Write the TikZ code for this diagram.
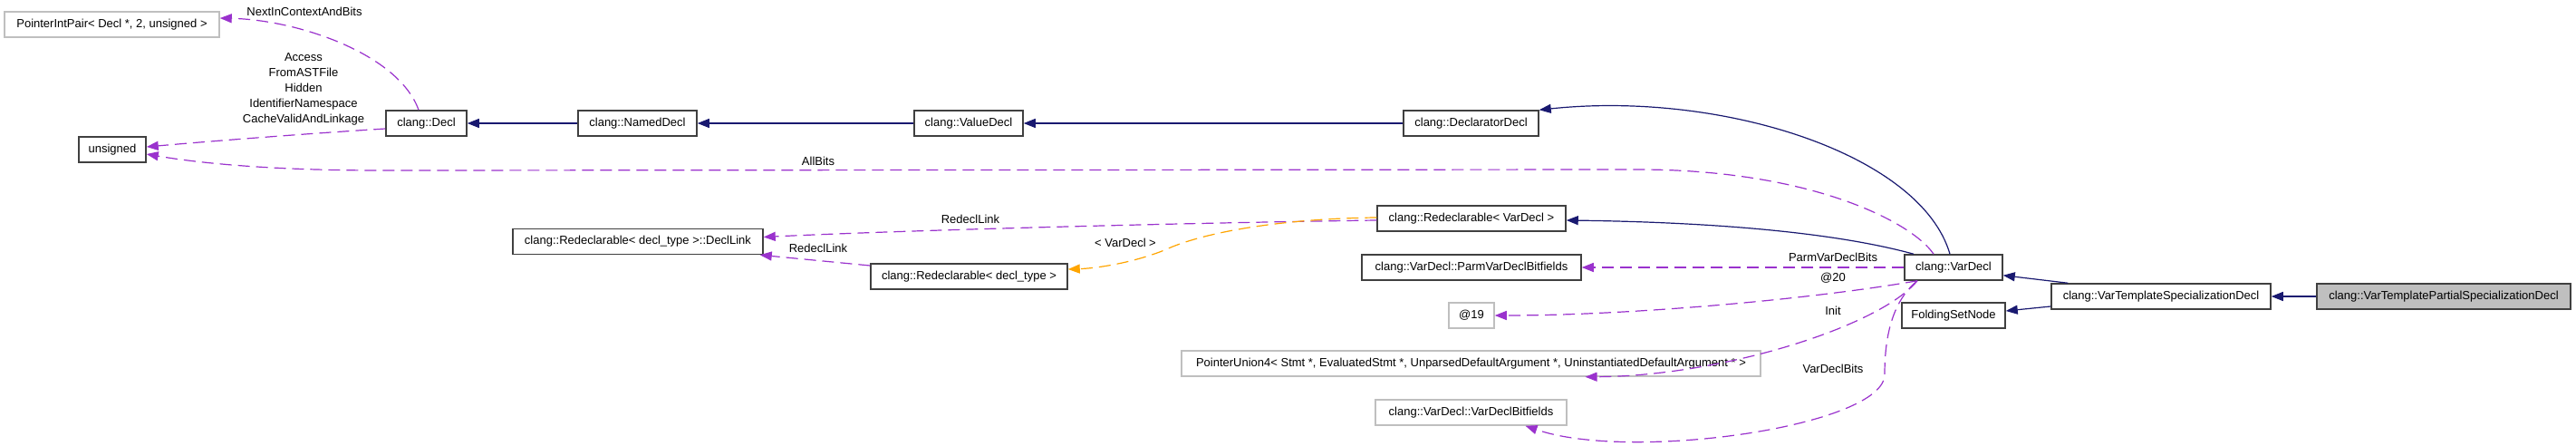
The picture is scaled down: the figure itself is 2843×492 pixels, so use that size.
\documentclass[tikz,border=0pt]{standalone}
\usepackage{fontspec}
\setmainfont{Liberation Sans}
\usetikzlibrary{arrows.meta,calc}
\definecolor{inhcol}{HTML}{191970}
\definecolor{usecol}{HTML}{9A32CD}
\definecolor{tplcol}{HTML}{FFA500}
\definecolor{boxcol}{HTML}{404040}
\definecolor{greycol}{HTML}{BFBFBF}
\definecolor{fillcol}{HTML}{BFBFBF}
\begin{document}
\begin{tikzpicture}[x=1pt,y=-1pt,
  every node/.style={font=\fontsize{13}{17}\selectfont},
  cls/.style={draw=boxcol, line width=1.5pt, minimum height=28pt, inner sep=0pt, anchor=center},
  ext/.style={draw=greycol, line width=1.5pt, minimum height=28pt, inner sep=0pt, anchor=center},
  lbl/.style={inner sep=0pt, anchor=center},
  inh/.style={draw=inhcol, line width=1.2pt, -{Triangle[length=13pt,width=10pt]}},
  use/.style={draw=usecol, line width=1.2pt, dash pattern=on 13pt off 7pt, -{Triangle[length=13pt,width=10pt]}},
  tpl/.style={draw=tplcol, line width=1.2pt, dash pattern=on 13pt off 7pt, -{Triangle[length=13pt,width=10pt]}}
]
\useasboundingbox (0,0) rectangle (2843,492);
\fill[white] (0,0) rectangle (2843,492);

% nodes
\node[ext, minimum width=237pt] (pip) at (123.5,27) {PointerIntPair< Decl *, 2, unsigned >};
\node[cls, minimum width=74pt] (uns) at (124,165) {unsigned};
\node[cls, minimum width=89pt] (decl) at (470.5,136) {clang::Decl};
\node[cls, minimum width=131pt] (named) at (703.5,136) {clang::NamedDecl};
\node[cls, minimum width=120pt] (value) at (1069,136) {clang::ValueDecl};
\node[cls, minimum width=149pt] (declarator) at (1623.5,136) {clang::DeclaratorDecl};
\node[cls, minimum width=208pt] (rdVar) at (1624,241) {clang::Redeclarable< VarDecl >};
\node[cls, minimum width=276pt] (declLink) at (704,266.5) {clang::Redeclarable< decl\_type >::DeclLink};
\node[cls, minimum width=217pt] (rdDT) at (1069.5,305) {clang::Redeclarable< decl\_type >};
\node[cls, minimum width=242pt] (parm) at (1624,295) {clang::VarDecl::ParmVarDeclBitfields};
\node[ext, minimum width=50pt] (at19) at (1624,348) {@19};
\node[ext, minimum width=639pt] (pu4) at (1623.5,401) {PointerUnion4< Stmt *, EvaluatedStmt *, UnparsedDefaultArgument *, UninstantiatedDefaultArgument * >};
\node[ext, minimum width=211pt] (vdbf) at (1623.5,455) {clang::VarDecl::VarDeclBitfields};
\node[cls, minimum width=108pt] (vardecl) at (2156,295) {clang::VarDecl};
\node[cls, minimum width=114pt] (fsn) at (2156,348) {FoldingSetNode};
\node[cls, minimum width=242pt] (vtsd) at (2385,327) {clang::VarTemplateSpecializationDecl};
\node[cls, fill=fillcol, minimum width=280pt] (vtpsd) at (2697,327) {clang::VarTemplatePartialSpecializationDecl};

% inheritance
\draw[inh] (named) -- (decl);
\draw[inh] (value) -- (named);
\draw[inh] (declarator) -- (value);
\draw[inh] ($(vardecl.north)+(-4,0)$) .. controls (2120,170) and (1900,100) .. (declarator.north east);
\draw[inh] ($(vardecl.north)+(-44,0)$) .. controls (2020,255) and (1880,245) .. ($(rdVar.east)+(0,2)$);
\draw[inh] ($(vtsd.north west)+(19,0)$) -- ($(vardecl.south east)+(0,-6)$);
\draw[inh] ($(vtsd.west)+(0,11)$) -- ($(fsn.east)+(0,-5)$);
\draw[inh] (vtpsd) -- (vtsd);

% usage
\draw[use] ($(decl.north)+(-8.5,0)$) .. controls (440,60) and (330,22) .. ($(pip.east)+(0,-7)$);
\node[lbl] (lNext) at (336,13) {NextInContextAndBits};
\draw[use] ($(decl.west)+(0,6)$) .. controls (330,148) and (230,156) .. ($(uns.east)+(0,-3)$);
\node[lbl, align=center] (lAcc) at (335,98) {Access\\FromASTFile\\Hidden\\IdentifierNamespace\\CacheValidAndLinkage};
\draw[use] ($(vardecl.north)+(-22,0)$) .. controls (2110,245) and (2000,188) .. (1812,187) -- (420,188) .. controls (300,188) and (220,180) .. ($(uns.east)+(0,5)$);
\node[lbl] (lAll) at (903,178) {AllBits};

\draw[use] (vardecl.west) -- (parm.east);
\node[lbl] (lParm) at (2023,284) {ParmVarDeclBits};
\draw[use] ($(vardecl.south)+(-40,0)$) .. controls (2000,330) and (1800,348) .. (at19.east);
\node[lbl] (l20) at (2023,307) {@20};
\draw[use] ($(vardecl.south)+(-40,0)$) .. controls (2075,360) and (1900,415) .. ($(pu4.south)+(126,0)$);
\node[lbl] (lInit) at (2023,343) {Init};
\draw[use] ($(vardecl.south)+(-40,0)$) .. controls (2085,335) and (2080,380) .. (2080,413) .. controls (2080,470) and (1800,510) .. ($(vdbf.south)+(60,0)$);
\node[lbl] (lVDB) at (2023,407) {VarDeclBits};

\draw[use] ($(rdVar.west)+(0,2)$) .. controls (1300,246) and (1000,254) .. ($(declLink.east)+(0,-5)$);
\node[lbl] (lRL1) at (1071,242) {RedeclLink};
\draw[use] ($(rdDT.west)+(0,-12)$) -- ($(declLink.south east)+(-4,0)$);
\node[lbl] (lRL2) at (903,274) {RedeclLink};

% template
\draw[tpl] ($(rdVar.west)+(0,-1)$) .. controls (1420,241) and (1330,255) .. (1285,276) .. controls (1250,290) and (1210,296) .. ($(rdDT.east)+(0,-8)$);
\node[lbl] (lTpl) at (1242,268) {< VarDecl >};
\end{tikzpicture}
\end{document}
